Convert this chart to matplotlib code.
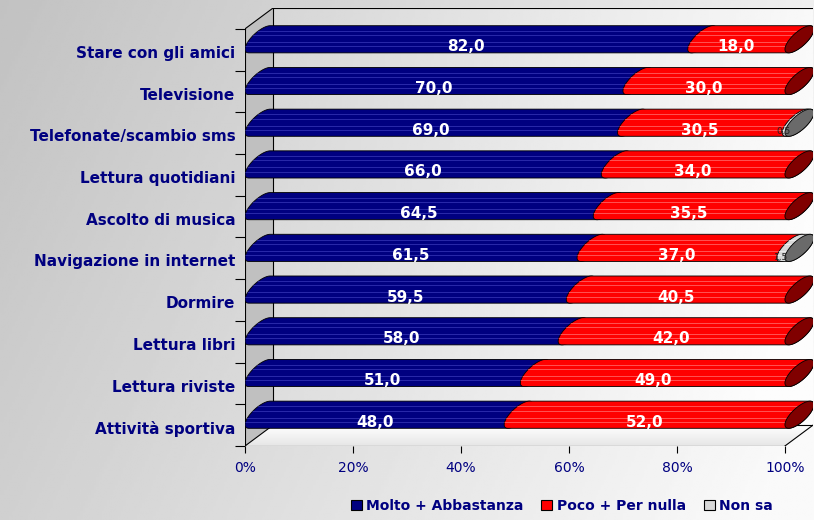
import numpy as np
import matplotlib
matplotlib.use("Agg")
import matplotlib.pyplot as plt
from matplotlib.patches import Polygon, Patch

# Data (rows from top to bottom)
categories = ["Stare con gli amici", "Televisione", "Telefonate/scambio sms",
              "Lettura quotidiani", "Ascolto di musica", "Navigazione in internet",
              "Dormire", "Lettura libri", "Lettura riviste", "Attività sportiva"]
molto = [82.0, 70.0, 69.0, 66.0, 64.5, 61.5, 59.5, 58.0, 51.0, 48.0]
poco = [18.0, 30.0, 30.5, 34.0, 35.5, 37.0, 40.5, 42.0, 49.0, 52.0]
non_sa = [0.0, 0.0, 0.5, 0.0, 0.0, 1.5, 0.0, 0.0, 0.0, 0.0]
series_names = ["Molto + Abbastanza", "Poco + Per nulla", "Non sa"]

# colours: body, stripe, end cap
body = ["#000080", "#ff0000", "#d8d8d8"]
stripe = ["#3030b0", "#ff6060", "#f0f0f0"]
cap = ["#000060", "#800000", "#6a6a6a"]
navy = "#000080"

# 3D look (in data units)
DX, DY = 5.2, 0.5          # depth offset of back wall
EX, EY, H = 2.68, 0.24, 0.22  # end-cap ellipse half vectors

fig = plt.figure(figsize=(8.14, 5.2), dpi=100)

# background gradient
bg = fig.add_axes([0, 0, 1, 1], zorder=-2)
gx, gy = np.meshgrid(np.linspace(0, 1, 300), np.linspace(0, 1, 200))
g = 0.76 + 0.22 * np.clip(0.8 * gx + 0.25 * gy, 0, 1)
bg.imshow(g, cmap="gray", vmin=0, vmax=1, aspect="auto", extent=(0, 1, 0, 1))
bg.axis("off")

ax = fig.add_axes([245 / 814, 74 / 520, 568 / 814, 438 / 520])
ax.set_xlim(0, 100 + DX)
ax.set_ylim(0, 10 + DY)
ax.patch.set_visible(False)
for s in ax.spines.values():
    s.set_visible(False)

# walls
wx, wy = np.meshgrid(np.linspace(0, 1, 200), np.linspace(0, 1, 100))
ax.imshow(0.84 + 0.15 * np.clip(wx * 0.9 + wy * 0.2, 0, 1), cmap="gray", vmin=0, vmax=1,
          aspect="auto", extent=(DX, 100 + DX, DY, 10 + DY), zorder=0)
ax.add_patch(Polygon([(0, 0), (0, 10), (DX, 10 + DY), (DX, DY)], closed=True,
                     facecolor="#c0c0c0", edgecolor="none", zorder=1))
floor = Polygon([(0, 0), (100, 0), (100 + DX, DY), (DX, DY)], closed=True,
                facecolor="none", edgecolor="none", zorder=1)
ax.add_patch(floor)
fi = ax.imshow(1 - 0.1 * wy, cmap="gray", vmin=0, vmax=1,
               aspect="auto", extent=(0, 100 + DX, 0, DY), zorder=1)
fi.set_clip_path(floor)
edges = [((0, 0), (0, 10)), ((0, 0), (100, 0)), ((0, 10), (DX, 10 + DY)),
         ((0, 0), (DX, DY)), ((100, 0), (100 + DX, DY)), ((DX, DY), (DX, 10 + DY)),
         ((DX, 10 + DY), (100 + DX, 10 + DY)), ((DX, DY), (100 + DX, DY))]
for p, q in edges:
    ax.plot([p[0], q[0]], [p[1], q[1]], color="black", lw=0.8, zorder=2)


def ellipse_pts(cx, yc, t0, t1, n=40):
    t = np.linspace(t0, t1, n)
    return np.column_stack([cx + EX * np.sin(t), yc + H * np.cos(t) + EY * np.sin(t)])


tt = np.arctan2(EY, H)
n = len(categories)
for i in range(n):
    k = n - 1 - i
    yc = k + 0.75
    vals = [molto[i], poco[i], non_sa[i]]
    start = 0.0
    last = max(j for j in range(3) if vals[j] > 0)
    for j, v in enumerate(vals):
        if v <= 0:
            continue
        ca, cb = start + EX, start + v + EX
        pts = np.vstack([ellipse_pts(ca, yc, tt, tt - np.pi),
                         ellipse_pts(cb, yc, tt - np.pi, tt - 2 * np.pi)])
        poly = Polygon(pts, closed=True, facecolor=body[j], edgecolor="black",
                       lw=0.6, zorder=3 + j)
        ax.add_patch(poly)
        for off in (-0.17, -0.07, 0.1, 0.2):
            ln, = ax.plot([0, 100 + DX], [yc + off, yc + off], color=stripe[j],
                          lw=0.6, zorder=3 + j)
            ln.set_clip_path(poly)
        if j == last:
            ax.add_patch(Polygon(ellipse_pts(cb, yc, 0, 2 * np.pi, 60), closed=True,
                                 facecolor=cap[j], edgecolor="black", lw=0.6, zorder=3 + j))
        lab = f"{v:.1f}".replace(".", ",")
        if j < 2:
            ax.text(start + v / 2, k + 0.57, lab, color="white", fontsize=11,
                    fontweight="bold", ha="center", va="center", zorder=10)
        else:
            ax.text(start + v / 2, k + 0.53, lab, color="#202020", fontsize=6.5,
                    ha="center", va="center", zorder=10)
        start += v

# ticks
ax.set_xticks(np.arange(0, 101, 20))
ax.set_xticklabels([f"{t}%" for t in range(0, 101, 20)])
ax.tick_params(axis="x", length=5, pad=6, colors="black", labelcolor=navy, labelsize=10)
ax.set_yticks(np.arange(0, 11))
ax.set_yticklabels([])
ax.set_yticks(np.arange(n) + 0.45, minor=True)
ax.set_yticklabels(categories[::-1], minor=True)
ax.tick_params(axis="y", which="major", length=7, colors="black")
ax.tick_params(axis="y", which="minor", length=0, pad=7, labelcolor=navy, labelsize=11)
for t in ax.get_yticklabels(minor=True):
    t.set_fontweight("bold")

handles = [Patch(facecolor=c, edgecolor="black", lw=0.8) for c in body]
fig.legend(handles, series_names, loc="center", bbox_to_anchor=(0.69, 0.027), ncol=3,
           frameon=False, handlelength=0.8, handleheight=0.8, handletextpad=0.3,
           columnspacing=1.3, prop={"weight": "bold", "size": 10}, labelcolor=navy)

fig.savefig("out.png", dpi=100)
